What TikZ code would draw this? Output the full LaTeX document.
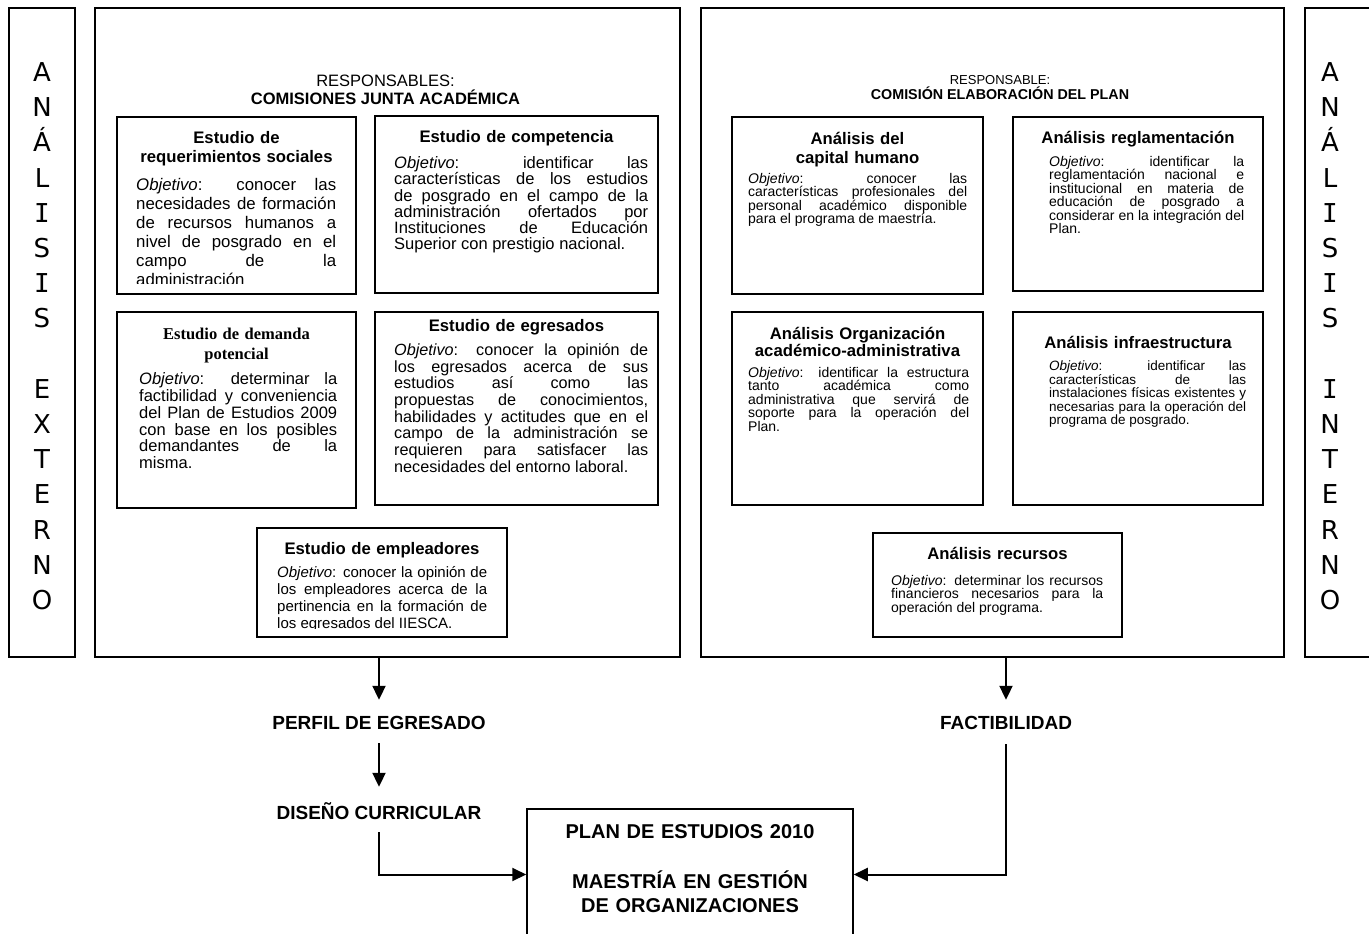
\documentclass[tikz,border=0pt]{standalone}
\usepackage{fontspec}
\setmainfont{Liberation Sans}
\newfontfamily\timesfont{Liberation Serif}
\newfontfamily\verd{DejaVu Sans}
\newfontfamily\verdmono{DejaVu Sans Mono}
\usepackage{tikz}
\usetikzlibrary{arrows.meta}
\setlength{\parindent}{0pt}
\tolerance=10000 \hbadness=10000 \hyphenpenalty=10000 \exhyphenpenalty=10000
\newcommand{\tstrut}{\rule{0pt}{1em}}
\newcommand{\Iser}{{\verdmono I}}
\tikzset{panel/.style={draw, line width=1.3pt, inner sep=0pt}}
\tikzset{card/.style={draw, line width=2.4pt, inner sep=0pt}}
\tikzset{cardtitle/.style={anchor=north, inner sep=0pt, align=center, font=\bfseries\fontsize{16.7}{19}\selectfont}}
\tikzset{cardbody/.style={anchor=north west, inner sep=0pt, align=justify}}
\tikzset{colletter/.style={anchor=base, inner sep=0pt, font=\verd\fontsize{26}{30}\selectfont}}
\tikzset{flowlabel/.style={anchor=base, inner sep=0pt, text height=14pt, text depth=0pt, font=\bfseries\fontsize{19}{22}\selectfont}}
\tikzset{flow/.style={line width=2pt, -{Triangle[width=13pt,length=14pt]}}}

\begin{document}
\begin{tikzpicture}[x=1pt,y=-1pt]
\useasboundingbox (0,0) rectangle (1369,934);

% side columns
\node (ext) at (42,332.5)[panel, minimum width=66pt, minimum height=649pt]{};
\node (int) at (1338.5,332.5)[panel, minimum width=67pt, minimum height=649pt]{};
\foreach \ltr/\k in {A/0,N/1,Á/2,L/3,\Iser/4,S/5,\Iser/6,S/7,E/9,X/10,T/11,E/12,R/13,N/14,O/15}
  \node (ext\k) at (42,{81.5+35.2*\k})[colletter]{\ltr};
\foreach \ltr/\k in {A/0,N/1,Á/2,L/3,\Iser/4,S/5,\Iser/6,S/7,\Iser/9,N/10,T/11,E/12,R/13,N/14,O/15}
  \node (int\k) at (1330,{81.5+35.2*\k})[colletter]{\ltr};

% left panel
\node (jac) at (387.5,332.5)[panel, minimum width=585pt, minimum height=649pt]{};
\node (jachead) at (385.5,86)[anchor=base, font=\fontsize{16.5}{19}\selectfont]{RESPONSABLES:};
\node (jacname) at (385.5,104)[anchor=base, font=\bfseries\fontsize{16.5}{19}\selectfont]{COMISIONES JUNTA ACADÉMICA};

\node (req) at (236.5,205.5)[card, minimum width=239pt, minimum height=177pt]{};
\node (reqt) at (236.5,127)[cardtitle, text width=220pt]{\tstrut Estudio de\\requerimientos sociales};
\begin{scope}
\clip (117,117) rectangle (356,283);
\node (reqb) at (136,173.7)[cardbody, text width=200pt, font=\fontsize{16.8}{18.9}\selectfont]{\tstrut\textit{Objetivo}: conocer las\linebreak necesidades de formación\linebreak de recursos humanos a\linebreak nivel de posgrado en el\linebreak campo de la\linebreak administración};
\end{scope}

\node (comp) at (516.5,204.5)[card, minimum width=283pt, minimum height=177pt]{};
\node (compt) at (516.5,126)[cardtitle, text width=260pt]{\tstrut Estudio de competencia};
\node (compb) at (394,152)[cardbody, text width=254pt, font=\fontsize{16.5}{16.2}\selectfont]{\tstrut\textit{Objetivo}: identificar las\linebreak características de los estudios\linebreak de posgrado en el campo de la\linebreak administración ofertados por\linebreak Instituciones de Educación\linebreak Superior con prestigio nacional.};

\node (dem) at (236.5,410)[card, minimum width=239pt, minimum height=196pt]{};
\node (demt) at (236.5,322.4)[cardtitle, text width=220pt, font=\timesfont\bfseries\fontsize{16.5}{20}\selectfont]{\tstrut Estudio de demanda\\potencial};
\node (demb) at (139,368)[cardbody, text width=198pt, font=\fontsize{16.5}{16.8}\selectfont]{\tstrut\textit{Objetivo}: determinar la\linebreak factibilidad y conveniencia\linebreak del Plan de Estudios 2009\linebreak con base en los posibles\linebreak demandantes de la\linebreak misma.};

\node (egr) at (516.5,408.5)[card, minimum width=283pt, minimum height=193pt]{};
\node (egrt) at (516.5,314.4)[cardtitle, text width=260pt]{\tstrut Estudio de egresados};
\node (egrb) at (394,339)[cardbody, text width=254pt, font=\fontsize{16.2}{16.7}\selectfont]{\tstrut\textit{Objetivo}: conocer la opinión de\linebreak los egresados acerca de sus\linebreak estudios así como las\linebreak propuestas de conocimientos,\linebreak habilidades y actitudes que en el\linebreak campo de la administración se\linebreak requieren para satisfacer las\linebreak necesidades del entorno laboral.};

\node (emp) at (382,582.5)[card, minimum width=250pt, minimum height=109pt]{};
\node (empt) at (382,537.4)[cardtitle, text width=230pt]{\tstrut Estudio de empleadores};
\begin{scope}
\clip (257,528) rectangle (507,628);
\node (empb) at (277,562)[cardbody, text width=210pt, font=\fontsize{15}{17}\selectfont]{\tstrut\textit{Objetivo}: conocer la opinión de\linebreak los empleadores acerca de la\linebreak pertinencia en la formación de\linebreak los egresados del IIESCA.};
\end{scope}

%now the right panel
\node (cej) at (992.5,332.5)[panel, minimum width=583pt, minimum height=649pt]{};
\node (cejhead) at (1000,84.7)[anchor=base, font=\fontsize{13}{15}\selectfont]{RESPONSABLE:};
\node (cejname) at (1000,99.2)[anchor=base, font=\bfseries\fontsize{14.3}{16}\selectfont]{COMISIÓN ELABORACIÓN DEL PLAN};

\node (cap) at (857.5,205.5)[card, minimum width=251pt, minimum height=177pt]{};
\node (capt) at (857.5,127.3)[cardtitle, text width=230pt]{\tstrut Análisis del\\capital humano};
\node (capb) at (748,169)[cardbody, text width=219pt, font=\fontsize{14}{13.5}\selectfont]{\tstrut\textit{Objetivo}: conocer las\linebreak características profesionales del\linebreak personal académico disponible\linebreak para el programa de maestría.};

\node (reg) at (1138,204)[card, minimum width=250pt, minimum height=174pt]{};
\node (regt) at (1138,126.3)[cardtitle, text width=230pt]{\tstrut Análisis reglamentación};
\node (regb) at (1049,152)[cardbody, text width=195pt, font=\fontsize{14}{13.5}\selectfont]{\tstrut\textit{Objetivo}: identificar la\linebreak reglamentación nacional e\linebreak institucional en materia de\linebreak educación de posgrado a\linebreak considerar en la integración del\linebreak Plan.};

\node (org) at (857.5,408.5)[card, minimum width=251pt, minimum height=193pt]{};
\node (orgt) at (857.5,322.3)[cardtitle, text width=235pt, font=\bfseries\fontsize{16.7}{17}\selectfont]{\tstrut Análisis Organización\\académico-administrativa};
\node (orgb) at (748,363)[cardbody, text width=221pt, font=\fontsize{14}{13.5}\selectfont]{\tstrut\textit{Objetivo}: identificar la estructura\linebreak tanto académica como\linebreak administrativa que servirá de\linebreak soporte para la operación del\linebreak Plan.};

\node (inf) at (1138,408.5)[card, minimum width=250pt, minimum height=193pt]{};
\node (inft) at (1138,331.3)[cardtitle, text width=230pt]{\tstrut Análisis infraestructura};
\node (infb) at (1049,357)[cardbody, text width=197pt, font=\fontsize{13.5}{13.5}\selectfont]{\tstrut\textit{Objetivo}: identificar las\linebreak características de las\linebreak instalaciones físicas existentes y\linebreak necesarias para la operación del\linebreak programa de posgrado.};

\node (rec) at (997.5,585)[card, minimum width=249pt, minimum height=104pt]{};
\node (rect) at (997.5,542.3)[cardtitle, text width=230pt]{\tstrut Análisis recursos};
\node (recb) at (891,571)[cardbody, text width=212pt, font=\fontsize{14}{13.5}\selectfont]{\tstrut\textit{Objetivo}: determinar los recursos\linebreak financieros necesarios para la\linebreak operación del programa.};

% outcomes
\node (perfil) at (379,729)[flowlabel]{PERFIL DE EGRESADO};
\node (dis) at (379,819)[flowlabel]{DISEÑO CURRICULAR};
\node (fact) at (1006,729)[flowlabel]{FACTIBILIDAD};
\node (plan) at (690,874.5)[panel, line width=1.5pt, minimum width=326pt, minimum height=131pt]{};
\node (plantxt) at (690,818)[anchor=north, inner sep=0pt, text width=320pt, align=center, font=\bfseries\fontsize{20}{24}\selectfont]{\tstrut PLAN DE ESTUDIOS 2010\\[26pt]MAESTRÍA EN GESTIÓN\\DE ORGANIZACIONES};

\draw[flow] (jac.south -| perfil) -- ([yshift=15pt]perfil.north);
\draw[flow] ([yshift=-14pt]perfil.south) -- ([yshift=18pt]dis.north);
\draw[flow] ([yshift=-13pt]dis.south) |- (plan.west);
\draw[flow] (cej.south -| fact) -- ([yshift=15pt]fact.north);
\draw[flow] ([yshift=-15pt]fact.south) |- (plan.east);
\end{tikzpicture}
\end{document}
